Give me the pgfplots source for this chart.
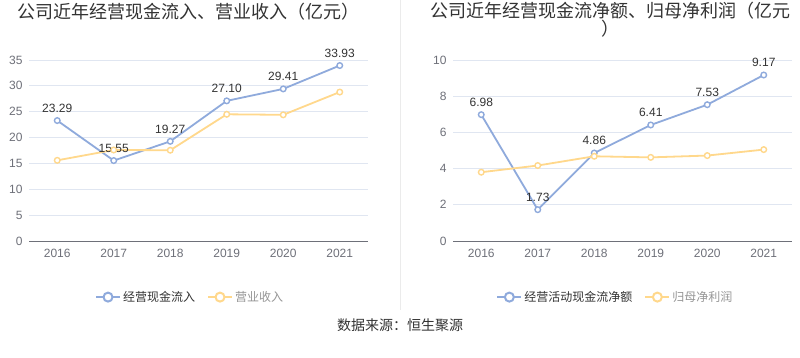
\documentclass[border=0pt]{standalone}
\usepackage{pgfplots}
\pgfplotsset{compat=1.18}
\usepackage{fontspec}
\setmainfont{Liberation Sans}
\newfontfamily\cjk{Noto Sans CJK SC}
\definecolor{cblue}{RGB}{143,170,220}
\definecolor{cyel}{RGB}{255,216,140}
\definecolor{gridc}{RGB}{224,230,241}
\definecolor{axl}{RGB}{110,112,121}
\definecolor{txt}{RGB}{51,51,51}
\definecolor{ltxt}{RGB}{150,150,150}
\pgfplotsset{
  mystyle/.style={
    scale only axis, width=339pt, height=181pt, anchor=south west,
    xmin=-0.5, xmax=5.5, ymin=0,
    xtick={0,...,5}, xticklabels={2016,2017,2018,2019,2020,2021},
    axis x line*=bottom, axis y line*=left,
    y axis line style={draw=none},
    x axis line style={draw=axl, line width=0.8pt, -},
    ymajorgrids, grid style={gridc, line width=0.8pt},
    major tick length=0pt,
    tick label style={font=\fontsize{12}{14}\selectfont, text=axl},
    /pgf/number format/assume math mode=true,
    xticklabel style={yshift=-5pt}, yticklabel style={xshift=-3pt},
    clip=false,
    legend style={draw=none, fill=none, font=\cjk\fontsize{12}{14}\selectfont,
      /tikz/every even column/.append style={column sep=10pt}},
    legend columns=2,
    legend cell align=left,
    legend image code/.code={\draw[##1,line width=2pt] (0pt,0pt) -- (24pt,0pt);
      \draw[##1, fill=white, line width=2pt] (12pt,0pt) circle (4.5pt);},
    every axis plot/.append style={line width=1.8pt, mark=*, mark size=2.8pt,
      mark options={fill=white, line width=1.4pt}},
  },
  lab/.style={nodes near coords, point meta=explicit symbolic,
    every node near coord/.style={font=\fontsize{12}{14}\selectfont, text=txt, anchor=south, yshift=4pt}},
}
\begin{document}
\begin{tikzpicture}
\useasboundingbox (0pt,0pt) rectangle (800pt,358pt);
\fill[white] (0pt,0pt) rectangle (800pt,358pt);
\draw[color=black!8, line width=0.8pt] (400pt,358pt) -- (400pt,48pt);
\node[font=\cjk\fontsize{18}{21}\selectfont, text=txt] at (188pt,346pt) {公司近年经营现金流入、营业收入（亿元）};
\node[font=\cjk\fontsize{18}{17}\selectfont, text=txt, align=center] at (610pt,338pt) {公司近年经营现金流净额、归母净利润（亿元\\）};
\node[font=\cjk\fontsize{14}{16}\selectfont, text=txt] at (400pt,33pt) {数据来源：恒生聚源};

\begin{axis}[mystyle, at={(29pt,117pt)}, ymax=35, ytick distance=5,
  legend style={at={(0.475,-0.31)}, anchor=center}]
\addplot[cblue, lab] coordinates {(0,23.29) [23.29] (1,15.55) [15.55] (2,19.27) [19.27] (3,27.10) [27.10] (4,29.41) [29.41] (5,33.93) [33.93]};
\addlegendentry{\textcolor{txt}{经营现金流入}}
\addplot[cyel] coordinates {(0,15.6) (1,17.6) (2,17.55) (3,24.5) (4,24.4) (5,28.8)};
\addlegendentry{\textcolor{ltxt}{营业收入}}
\end{axis}

\begin{axis}[mystyle, at={(453pt,117pt)}, ymax=10, ytick distance=2,
  legend style={at={(0.479,-0.31)}, anchor=center}]
\addplot[cblue, lab] coordinates {(0,6.98) [6.98] (1,1.73) [1.73] (2,4.86) [4.86] (3,6.41) [6.41] (4,7.53) [7.53] (5,9.17) [9.17]};
\addlegendentry{\textcolor{txt}{经营活动现金流净额}}
\addplot[cyel] coordinates {(0,3.80) (1,4.17) (2,4.68) (3,4.62) (4,4.72) (5,5.05)};
\addlegendentry{\textcolor{ltxt}{归母净利润}}
\end{axis}
\end{tikzpicture}
\end{document}
